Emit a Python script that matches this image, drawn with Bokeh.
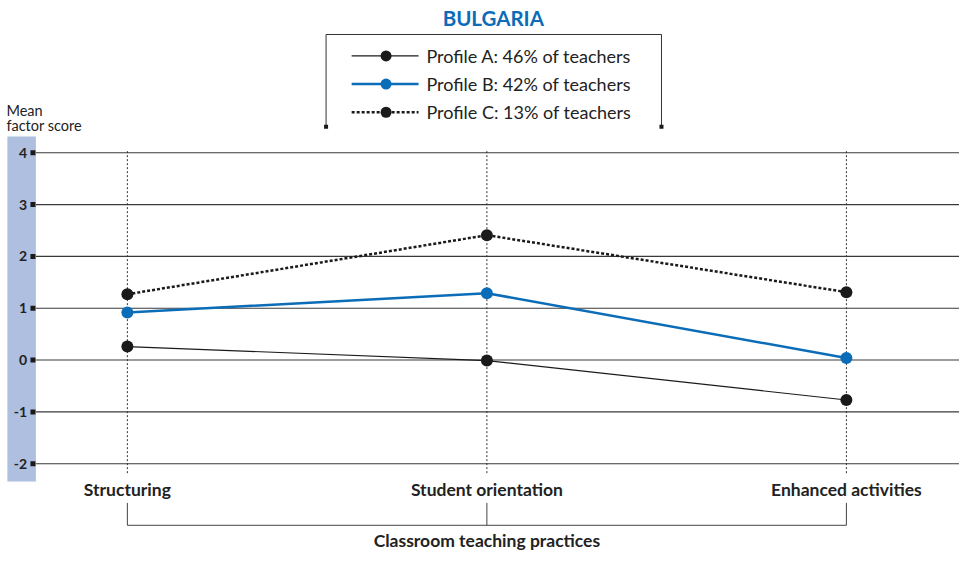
from bokeh.plotting import figure
from bokeh.models import Range1d
from bokeh.core.properties import value
from bokeh.embed import file_html
from bokeh.resources import INLINE
import numpy as np

# ---- data ----
title = "BULGARIA"
categories = ["Structuring", "Student orientation", "Enhanced activities"]
series_names = ["Profile A:  46% of teachers",
                "Profile B:  42% of teachers",
                "Profile C:  13% of teachers"]
profile_a = [0.26, -0.01, -0.77]
profile_b = [0.92, 1.29, 0.04]
profile_c = [1.27, 2.41, 1.31]
y_ticks = [4, 3, 2, 1, 0, -1, -2]
y_tick_labels = ["4", "3", "2", "1", "0", "-1", "-2"]
y_axis_title = ["Mean", "factor score"]
x_axis_title = "Classroom teaching practices"

# ---- styles ----
BLUE = "#0b6cb8"
BAND = "#aebfe0"
FONT = "Lato"
TXT = "#222222"

W, H = 959, 552
xs = np.arange(len(categories))

p = figure(width=W, height=H, output_backend="svg", toolbar_location=None,
           x_range=Range1d(-0.3529, 2.3146), y_range=Range1d(-3.713, 6.938),
           min_border=0, min_border_left=0, min_border_right=0,
           min_border_top=0, min_border_bottom=0)
p.axis.visible = False
p.grid.visible = False
p.outline_line_color = None
p.background_fill_color = "white"
p.border_fill_color = "white"

# layout range for decorations (reference-image coordinates)
p.extra_x_ranges = {"px": Range1d(0, 975)}
p.extra_y_ranges = {"px": Range1d(568, 0)}
PX = dict(x_range_name="px", y_range_name="px")

# blue band behind y tick labels
p.quad(left=[7], right=[36], top=[140], bottom=[495], fill_color=BAND,
       line_color=None, **PX)

# horizontal gridlines
p.segment(x0=[36] * len(y_ticks), x1=[975] * len(y_ticks), y0=y_ticks, y1=y_ticks,
          line_color="#3a3a3a", line_width=1.1, x_range_name="px")

# tick marks and labels
p.rect(x=[33] * len(y_ticks), y=y_ticks, width=5, height=5, width_units="screen",
       height_units="screen", fill_color="#1a1a1a", line_color=None, x_range_name="px")
p.text(x=[27] * len(y_ticks), y=y_ticks, text=y_tick_labels, text_align="right",
       text_baseline="middle", text_font=value(FONT), text_font_style="bold",
       text_font_size="14px", text_color=TXT, x_range_name="px")

# y axis title
p.text(x=[6, 6], y=[113, 129], text=y_axis_title, text_align="left",
       text_baseline="middle", text_font=value(FONT), text_font_size="14.5px",
       text_color=TXT, **PX)

# vertical dotted category lines
p.segment(x0=xs, x1=xs, y0=[155] * len(xs), y1=[487] * len(xs),
          line_color="#333333", line_width=1, line_dash="2 2", y_range_name="px")

# category labels
p.text(x=xs, y=[503] * len(xs), text=categories, text_align="center",
       text_baseline="middle", text_font=value(FONT), text_font_style="bold",
       text_font_size="17.5px", text_color=TXT, y_range_name="px")

# bracket
p.segment(x0=xs, x1=xs, y0=[517] * len(xs), y1=[540] * len(xs),
          line_color="#444444", line_width=1, y_range_name="px")
p.segment(x0=[xs[0]], x1=[xs[-1]], y0=[540], y1=[540],
          line_color="#444444", line_width=1, y_range_name="px")
p.text(x=[xs[1]], y=[556], text=[x_axis_title], text_align="center",
       text_baseline="middle", text_font=value(FONT), text_font_style="bold",
       text_font_size="17.5px", text_color=TXT, y_range_name="px")

# series
styles = [
    dict(color="#1a1a1a", width=1.2, dash="solid"),
    dict(color=BLUE, width=2.5, dash="solid"),
    dict(color="#1a1a1a", width=2.5, dash="3 2"),
]
for vals, st in zip([profile_a, profile_b, profile_c], styles):
    p.line(xs, vals, line_color=st["color"], line_width=st["width"], line_dash=st["dash"])
    p.scatter(xs, vals, size=12, fill_color=st["color"], line_color=None)

# title
p.text(x=[501], y=[18], text=[title], text_align="center", text_baseline="middle",
       text_font=value(FONT), text_font_style="bold", text_font_size="20.5px",
       text_color=BLUE, **PX)

# legend box (top and sides, open bottom)
p.line(x=[331, 331, 672, 672], y=[130, 35, 35, 130], line_color="#333333",
       line_width=1, **PX)
p.rect(x=[331, 672], y=[130, 130], width=4, height=4, width_units="screen",
       height_units="screen", fill_color="#1a1a1a", line_color=None, **PX)
leg_y = [57, 86, 115]
for ly, st, name in zip(leg_y, styles, series_names):
    p.line(x=[357, 425], y=[ly, ly], line_color=st["color"], line_width=st["width"],
           line_dash=st["dash"], **PX)
    p.scatter(x=[392], y=[ly], size=11, fill_color=st["color"], line_color=None, **PX)
    p.text(x=[433], y=[ly], text=[name], text_align="left", text_baseline="middle",
           text_font=value(FONT), text_font_size="18px", text_color=TXT, **PX)

open("out.html", "w").write(file_html(p, INLINE))
